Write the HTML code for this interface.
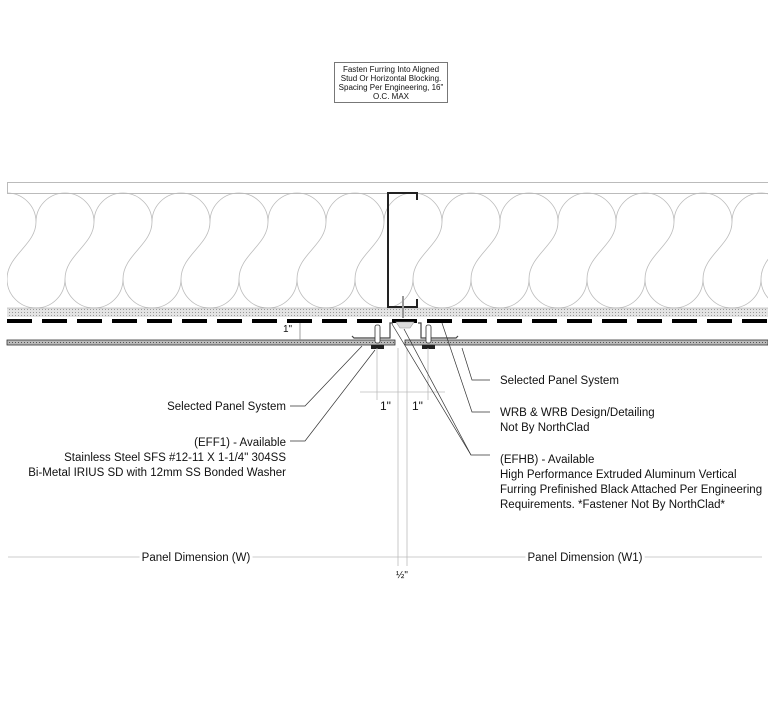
<!DOCTYPE html>
<html><head><meta charset="utf-8"><style>
html,body{margin:0;padding:0;background:#fff;}
svg{display:block;}
text{font-family:"Liberation Sans",Arial,sans-serif;fill:#111;}
</style></head><body>
<svg width="768" height="713" viewBox="0 0 768 713" xmlns="http://www.w3.org/2000/svg">
<defs>
<pattern id="dots" width="3" height="3" patternUnits="userSpaceOnUse">
<rect width="3" height="3" fill="#e4e4e4"/><rect width="1" height="1" fill="#999"/>
</pattern>
<pattern id="dots2" width="3" height="3" patternUnits="userSpaceOnUse">
<rect width="3" height="3" fill="#bbb"/><rect width="1" height="1" fill="#555"/>
</pattern>
<clipPath id="ic"><rect x="7" y="190" width="761" height="120"/></clipPath>
</defs>
<rect x="334.5" y="62.5" width="113" height="40" fill="#fff" stroke="#777" stroke-width="1"/>
<text font-size="8" text-anchor="middle" x="391" y="72">Fasten Furring Into Aligned</text>
<text font-size="8" text-anchor="middle" x="391" y="81">Stud Or Horizontal Blocking.</text>
<text font-size="8" text-anchor="middle" x="391" y="90">Spacing Per Engineering, 16"</text>
<text font-size="8" text-anchor="middle" x="391" y="99">O.C. MAX</text>

<rect x="7.5" y="182.5" width="768" height="11" fill="#fff" stroke="#bbb"/>
<g id="bulbs" fill="none" stroke="#bbb" stroke-width="0.8" clip-path="url(#ic)"></g>

<rect x="7" y="308" width="768" height="9" fill="url(#dots)"/>
<line x1="7" y1="308" x2="768" y2="308" stroke="#999" stroke-width="0.6"/>
<line x1="7" y1="321" x2="768" y2="321" stroke="#000" stroke-width="4" stroke-dasharray="25,10"/>

<rect x="7" y="340" width="388" height="5" fill="url(#dots2)" stroke="#333" stroke-width="0.8"/>
<rect x="405" y="340" width="363" height="5" fill="url(#dots2)" stroke="#333" stroke-width="0.8"/>

<path d="M417,200 L417,193 L388,193 L388,307 L417,307 L417,299" fill="none" stroke="#222" stroke-width="2"/>
<line x1="403" y1="296" x2="403" y2="318" stroke="#999" stroke-width="2"/>

<path d="M352,336 L354,338 L390,338 L390,323 L393,323" fill="none" stroke="#444" stroke-width="1.2"/>
<path d="M418,323 L421,323 L421,338 L456,338 L458,336" fill="none" stroke="#444" stroke-width="1.2"/>
<path d="M396,322 L414,322 L410,328 L400,328 Z" fill="#ddd" stroke="#999" stroke-width="0.6"/>
<g stroke="#333" stroke-width="0.8" fill="#fff">
<rect x="375" y="325" width="5" height="18" rx="2"/>
<rect x="426" y="325" width="5" height="18" rx="2"/>
</g>
<rect x="371" y="345" width="13" height="4" fill="#222"/>
<rect x="422" y="345" width="13" height="4" fill="#222"/>

<g stroke="#bbb" stroke-width="0.8" fill="none">
<line x1="377" y1="348" x2="377" y2="400"/>
<line x1="398" y1="348" x2="398" y2="566"/>
<line x1="407" y1="348" x2="407" y2="566"/>
<line x1="428" y1="348" x2="428" y2="400"/>
<line x1="360" y1="392" x2="445" y2="392"/>
<line x1="8" y1="557" x2="762" y2="557"/>
</g>
<line x1="300" y1="323" x2="300" y2="340" stroke="#888" stroke-width="0.8"/>
<text font-size="10" x="283" y="332">1"</text>
<text font-size="12" x="380" y="410">1"</text>
<text font-size="12" x="412" y="410">1"</text>
<text font-size="10" x="396" y="578">½"</text>

<g stroke="#333" stroke-width="0.7" fill="none">
<polyline points="290,406 305,406 362,346"/>
<polyline points="290,441 305,441 375,350"/>
<polyline points="490,380 472,380 462,348"/>
<polyline points="490,412 472,412 442,323"/>
<polyline points="490,455 471,455 392,324"/>
<polyline points="471,455 404,329"/>
</g>

<g font-size="11.5">
<text x="286" y="410" text-anchor="end">Selected Panel System</text>
<text x="286" y="446" text-anchor="end">(EFF1) - Available</text>
<text x="286" y="461" text-anchor="end">Stainless Steel SFS #12-11 X 1-1/4" 304SS</text>
<text x="286" y="476" text-anchor="end">Bi-Metal IRIUS SD with 12mm SS Bonded Washer</text>
<text x="500" y="384">Selected Panel System</text>
<text x="500" y="416">WRB &amp; WRB Design/Detailing</text>
<text x="500" y="431">Not By NorthClad</text>
<text x="500" y="463">(EFHB) - Available</text>
<text x="500" y="478">High Performance Extruded Aluminum Vertical</text>
<text x="500" y="493">Furring Prefinished Black Attached Per Engineering</text>
<text x="500" y="508">Requirements. *Fastener Not By NorthClad*</text>
<text x="196" y="561" text-anchor="middle" stroke="#fff" stroke-width="6">Panel Dimension (W)</text>
<text x="196" y="561" text-anchor="middle">Panel Dimension (W)</text>
<text x="585" y="561" text-anchor="middle" stroke="#fff" stroke-width="6">Panel Dimension (W1)</text>
<text x="585" y="561" text-anchor="middle">Panel Dimension (W1)</text>
</g>
<script>
(function(){
var g=document.getElementById('bulbs');var d='';
for(var u=7;u<860;u+=58){
 d+='M'+(u-29)+',222 A29,29 0 0 1 '+(u+29)+',222 ';
 d+='C'+(u+29)+',245 '+u+',255 '+u+',279 ';
 d+='A29,29 0 0 1 '+(u-58)+',279 ';
 d+='C'+(u-58)+',255 '+(u-29)+',245 '+(u-29)+',222 ';
}
var p=document.createElementNS('http://www.w3.org/2000/svg','path');
p.setAttribute('d',d);g.appendChild(p);
})();
</script>
</svg>
</body></html>
